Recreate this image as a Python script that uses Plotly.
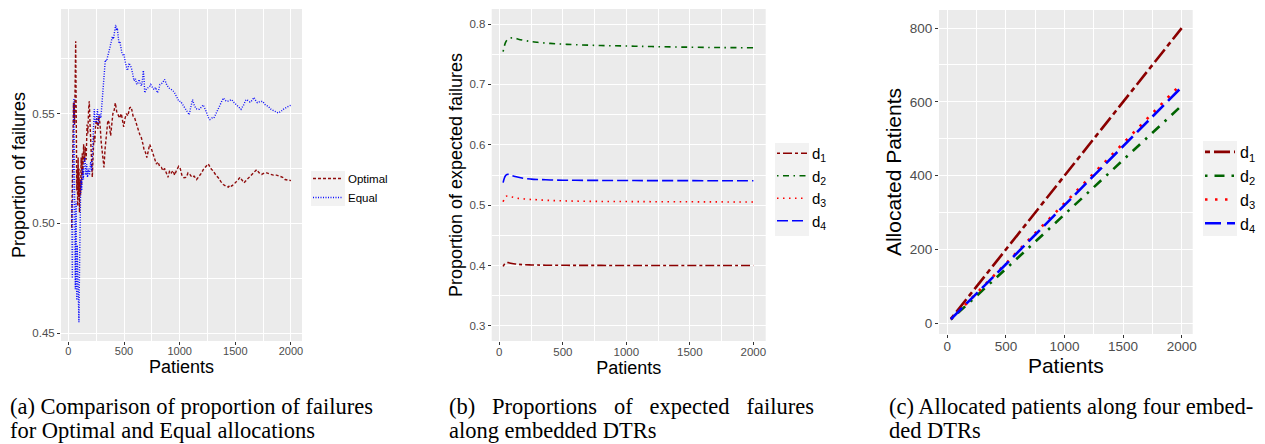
import plotly.graph_objects as go

W, H = 1265, 444

# ---------------- Panel (a): proportion of failures ----------------
opt_n = [30, 33, 36, 40, 43, 46, 50, 53, 56, 60, 63, 66, 69, 72, 76, 80, 84, 88, 92, 96, 100,
         105, 110, 115, 120, 125, 130, 137, 145, 152, 160, 168, 175, 182, 188, 195, 202, 208,
         215, 222, 230, 238, 245, 255, 265, 275, 285, 295, 305, 313, 320, 330, 340, 348, 355,
         365, 372, 380, 390, 400, 410, 422, 434, 446, 460, 476, 490, 497, 510, 521, 535, 551,
         565, 581, 596, 611, 626, 641, 656, 671, 682, 692, 705, 718, 731, 746, 761, 776, 791,
         805, 820, 836, 850, 865, 880, 895, 910, 925, 940, 955, 970, 991, 1005, 1020, 1039,
         1060, 1075, 1092, 1110, 1130, 1152, 1168, 1182, 1197, 1212, 1235, 1257, 1280, 1302,
         1325, 1347, 1370, 1392, 1415, 1437, 1452, 1467, 1490, 1512, 1527, 1542, 1560, 1578,
         1605, 1632, 1660, 1692, 1715, 1737, 1760, 1782, 1810, 1842, 1870, 1901, 1925, 1946,
         1970, 2000]
opt_p = [0.498, 0.515, 0.505, 0.530, 0.545, 0.555, 0.548, 0.555, 0.545, 0.560, 0.575, 0.583,
         0.560, 0.535, 0.515, 0.525, 0.508, 0.530, 0.512, 0.525, 0.505, 0.520, 0.513, 0.530,
         0.518, 0.532, 0.522, 0.536, 0.528, 0.535, 0.529, 0.545, 0.541, 0.552, 0.5556, 0.545,
         0.536, 0.528, 0.521, 0.530, 0.540, 0.537, 0.545, 0.548, 0.543, 0.549, 0.545, 0.537,
         0.532, 0.527, 0.5255, 0.534, 0.541, 0.545, 0.547, 0.546, 0.542, 0.540, 0.545, 0.550,
         0.551, 0.5549, 0.551, 0.5497, 0.548, 0.550, 0.545, 0.544, 0.548, 0.550, 0.549, 0.5527,
         0.553, 0.549, 0.548, 0.545, 0.543, 0.5406, 0.539, 0.536, 0.533, 0.5325, 0.530, 0.533,
         0.536, 0.534, 0.5318, 0.529, 0.527, 0.528, 0.526, 0.5255, 0.524, 0.525, 0.523, 0.521,
         0.524, 0.523, 0.524, 0.522, 0.524, 0.526, 0.525, 0.522, 0.5208, 0.521, 0.523, 0.5223,
         0.521, 0.5215, 0.520, 0.521, 0.5223, 0.523, 0.5245, 0.526, 0.5271, 0.525, 0.5238,
         0.522, 0.5208, 0.519, 0.5177, 0.517, 0.5165, 0.5175, 0.517, 0.518, 0.519, 0.520,
         0.521, 0.520, 0.5185, 0.520, 0.5215, 0.523, 0.5245, 0.523, 0.5223, 0.523, 0.523,
         0.5225, 0.522, 0.522, 0.5215, 0.521, 0.520, 0.5198, 0.5195]

eq_n = [30, 33, 36, 40, 43, 46, 50, 53, 56, 60, 63, 66, 70, 73, 76, 80, 84, 88, 92, 95, 98,
        102, 106, 110, 115, 120, 127, 135, 142, 150, 158, 165, 172, 180, 190, 200, 210, 218,
        225, 233, 241, 250, 255, 262, 270, 280, 292, 300, 310, 320, 332, 343, 353, 363, 373,
        385, 395, 405, 415, 425, 432, 440, 448, 455, 462, 470, 480, 491, 500, 509, 520, 530,
        538, 545, 556, 566, 578, 590, 602, 614, 625, 635, 645, 656, 665, 674, 680, 686, 698,
        710, 725, 740, 755, 770, 785, 800, 812, 823, 845, 865, 885, 904, 925, 949, 970, 994,
        1010, 1030, 1047, 1065, 1086, 1100, 1116, 1130, 1146, 1160, 1176, 1195, 1212, 1230,
        1248, 1260, 1272, 1290, 1307, 1325, 1347, 1370, 1392, 1410, 1428, 1447, 1467, 1490,
        1512, 1530, 1551, 1575, 1596, 1615, 1632, 1650, 1668, 1683, 1698, 1720, 1746, 1770,
        1797, 1820, 1842, 1865, 1886, 1910, 1931, 1965, 2000]
eq_p = [0.510, 0.490, 0.475, 0.515, 0.530, 0.545, 0.557, 0.535, 0.500, 0.480, 0.470, 0.495,
        0.510, 0.485, 0.465, 0.490, 0.475, 0.465, 0.460, 0.455, 0.470, 0.490, 0.505, 0.515,
        0.520, 0.515, 0.525, 0.520, 0.528, 0.530, 0.522, 0.527, 0.521, 0.525, 0.522, 0.528,
        0.524, 0.535, 0.5495, 0.552, 0.546, 0.546, 0.549, 0.552, 0.545, 0.550, 0.548, 0.553,
        0.5617, 0.568, 0.5745, 0.574, 0.577, 0.578, 0.580, 0.583, 0.5851, 0.584, 0.587,
        0.5905, 0.588, 0.589, 0.585, 0.582, 0.583, 0.5795, 0.578, 0.5765, 0.577, 0.574,
        0.572, 0.5697, 0.571, 0.573, 0.572, 0.571, 0.568, 0.565, 0.566, 0.5633, 0.564,
        0.5656, 0.564, 0.5626, 0.565, 0.5697, 0.566, 0.5595, 0.561, 0.5617, 0.562, 0.5633,
        0.562, 0.561, 0.562, 0.5595, 0.561, 0.5633, 0.564, 0.5656, 0.563, 0.5617, 0.561,
        0.560, 0.558, 0.5556, 0.5555, 0.554, 0.5526, 0.551, 0.5495, 0.553, 0.5564, 0.554,
        0.5523, 0.552, 0.552, 0.553, 0.554, 0.552, 0.5495, 0.548, 0.5473, 0.548, 0.548,
        0.550, 0.5526, 0.555, 0.5571, 0.556, 0.5556, 0.556, 0.5564, 0.555, 0.554, 0.553,
        0.552, 0.554, 0.5564, 0.556, 0.5553, 0.556, 0.5574, 0.556, 0.555, 0.5555, 0.5556,
        0.554, 0.5533, 0.552, 0.5514, 0.5508, 0.5503, 0.551, 0.552, 0.553, 0.5539]

# ---------------- Panel (b): expected failures per DTR ----------------
b_n = [30, 40, 50, 60, 70, 80, 100, 125, 150, 200, 250, 300, 400, 500, 600, 800, 1000,
       1200, 1500, 1750, 2000]
b_d1 = [0.3985, 0.4020, 0.4040, 0.4050, 0.4048, 0.4043, 0.4035, 0.4027, 0.4020, 0.4013,
        0.4010, 0.4008, 0.4005, 0.4004, 0.4003, 0.4002, 0.4001, 0.4001, 0.4000, 0.4000, 0.4000]
b_d2 = [0.7545, 0.7640, 0.7700, 0.7735, 0.7755, 0.7765, 0.7772, 0.7765, 0.7750, 0.7728,
        0.7710, 0.7698, 0.7680, 0.7668, 0.7658, 0.7645, 0.7637, 0.7628, 0.7617, 0.7611, 0.7608]
b_d3 = [0.5058, 0.5110, 0.5140, 0.5152, 0.5152, 0.5145, 0.5135, 0.5122, 0.5113, 0.5102,
        0.5095, 0.5090, 0.5078, 0.5072, 0.5067, 0.5062, 0.5060, 0.5058, 0.5056, 0.5054, 0.5053]
b_d4 = [0.5373, 0.5450, 0.5490, 0.5508, 0.5511, 0.5505, 0.5490, 0.5476, 0.5462, 0.5442,
        0.5432, 0.5426, 0.5418, 0.5414, 0.5412, 0.5410, 0.5408, 0.5407, 0.5406, 0.5405, 0.5405]

# ---------------- Panel (c): allocated patients per DTR ----------------
c_n = [30, 250, 500, 750, 1000, 1250, 1500, 1750, 2000]
c_d1 = [12, 100, 200, 300, 400, 500, 600, 700, 800]
c_d2 = [10, 74, 147, 221, 295, 369, 443, 516, 590]
c_d3 = [11, 81, 162, 244, 325, 406, 488, 569, 650]
c_d4 = [11, 80, 160, 240, 320, 400, 480, 560, 640]

dtr_names = ["d<sub>1</sub>", "d<sub>2</sub>", "d<sub>3</sub>", "d<sub>4</sub>"]
dtr_colors = ["#8B0000", "#006400", "#FF0000", "#0000FF"]
b_dash = ["3px,3px,9px,3px", "1.5px,4.5px,6px,4.5px", "1.5px,4.5px", "11px,4px"]
c_dash = ["5px,4px,16px,4px", "2.5px,7px,10px,7px", "2.5px,7.5px", "16px,6px"]

SANS = "Liberation Sans"
SERIF = "Liberation Serif"

fig = go.Figure()

fig.add_trace(go.Scatter(x=opt_n, y=opt_p, mode="lines", name="Optimal",
                         line=dict(color="#8B0000", width=1.4, dash="3px,2px"),
                         opacity=0.95, xaxis="x", yaxis="y", legend="legend"))
fig.add_trace(go.Scatter(x=eq_n, y=eq_p, mode="lines", name="Equal",
                         line=dict(color="#0000FF", width=1.4, dash="1px,1.5px"),
                         opacity=0.95, xaxis="x", yaxis="y", legend="legend"))

for vals, nm, col, ds in zip([b_d1, b_d2, b_d3, b_d4], dtr_names, dtr_colors, b_dash):
    fig.add_trace(go.Scatter(x=b_n, y=vals, mode="lines", name=nm,
                             line=dict(color=col, width=1.6, dash=ds, shape="spline"),
                             xaxis="x2", yaxis="y2", legend="legend2"))

for vals, nm, col, ds in zip([c_d1, c_d2, c_d3, c_d4], dtr_names, dtr_colors, c_dash):
    fig.add_trace(go.Scatter(x=c_n, y=vals, mode="lines", name=nm,
                             line=dict(color=col, width=2.6, dash=ds),
                             xaxis="x3", yaxis="y3", legend="legend3"))


def ax(domain, anchor, rng, dtick, minor_dtick, tfs, title, title_fs, standoff,
       fmt=None, lab_off=0):
    d = dict(domain=domain, anchor=anchor, range=rng, dtick=dtick, tick0=0,
             showline=False, zeroline=False, ticks="outside", ticklen=3, tickwidth=1,
             tickcolor="#333333", showgrid=True, gridcolor="white", gridwidth=1.1,
             minor=dict(dtick=minor_dtick, tick0=0, showgrid=True, gridcolor="white",
                        gridwidth=0.5),
             tickfont=dict(family=SANS, size=tfs, color="#4D4D4D"),
             ticklabelstandoff=lab_off,
             title=dict(text=title, font=dict(family=SANS, size=title_fs, color="black"),
                        standoff=standoff),
             automargin=False)
    if fmt:
        d["tickformat"] = fmt
    return d


def xd(x0, x1):
    return [x0 / W, x1 / W]


def yd(y0, y1):
    return [1 - y1 / H, 1 - y0 / H]


# light grey legend-key backgrounds (ggplot legend.key)
key_boxes = [(311, 171, 345, 206), (775, 143, 809, 236), (1203, 141, 1237, 236)]
shapes = [dict(type="rect", xref="paper", yref="paper", x0=a / W, x1=c / W,
               y0=1 - d / H, y1=1 - b / H, fillcolor="#F2F2F2", line=dict(width=0),
               layer="below") for a, b, c, d in key_boxes]

fig.update_layout(
    width=W, height=H,
    margin=dict(l=0, r=0, t=0, b=0),
    paper_bgcolor="white", plot_bgcolor="#EBEBEB",
    shapes=shapes,
    xaxis=ax(xd(61, 302), "y", [-66, 2099], 500, 250, 11, "Patients", 18, 0, lab_off=-3),
    yaxis=ax(yd(9, 341), "x", [0.4464, 0.5977], 0.05, 0.025, 11.5,
             "Proportion of failures", 18, 2, ".2f"),
    xaxis2=ax(xd(491.7, 765.7), "y2", [-60, 2097], 500, 250, 11.5, "Patients", 18, 0,
              lab_off=-3),
    yaxis2=ax(yd(9, 341), "x2", [0.275, 0.825], 0.1, 0.05, 11.5,
              "Proportion of expected failures", 18, 2, ".1f"),
    xaxis3=ax(xd(939, 1192.7), "y3", [-71, 2094], 500, 250, 13.5, "Patients", 21, 0,
              lab_off=-3),
    yaxis3=ax(yd(10, 334), "x3", [-29, 849], 200, 100, 13.5,
              "Allocated Patients", 21, 2),
    legend=dict(x=308 / W, y=1 - 164 / H, xanchor="left", yanchor="top",
                bgcolor="rgba(0,0,0,0)", font=dict(family=SANS, size=11.5, color="black")),
    legend2=dict(x=772 / W, y=1 - 137 / H, xanchor="left", yanchor="top",
                 bgcolor="rgba(0,0,0,0)", font=dict(family=SANS, size=15, color="black")),
    legend3=dict(x=1200 / W, y=1 - 135 / H, xanchor="left", yanchor="top",
                 bgcolor="rgba(0,0,0,0)", font=dict(family=SANS, size=16, color="black")),
    showlegend=True,
)

captions = [
    (8, 406, "(a) Comparison of proportion of failures"),
    (8, 430, "for Optimal and Equal allocations"),
    (447, 406, "(b)&nbsp;&nbsp; Proportions&nbsp;&nbsp; of&nbsp;&nbsp; expected&nbsp;&nbsp; failures"),
    (447, 430, "along embedded DTRs"),
    (887, 406, "(c) Allocated patients along four embed-"),
    (887, 430, "ded DTRs"),
]
for cx, cy, txt in captions:
    fig.add_annotation(x=cx / W, y=1 - cy / H, xref="paper", yref="paper", text=txt,
                       showarrow=False, xanchor="left", yanchor="middle",
                       font=dict(family=SERIF, size=22.5, color="black"))

fig.write_html("out.html", config={"displayModeBar": False},
               post_script="document.body.style.margin='0px';")
